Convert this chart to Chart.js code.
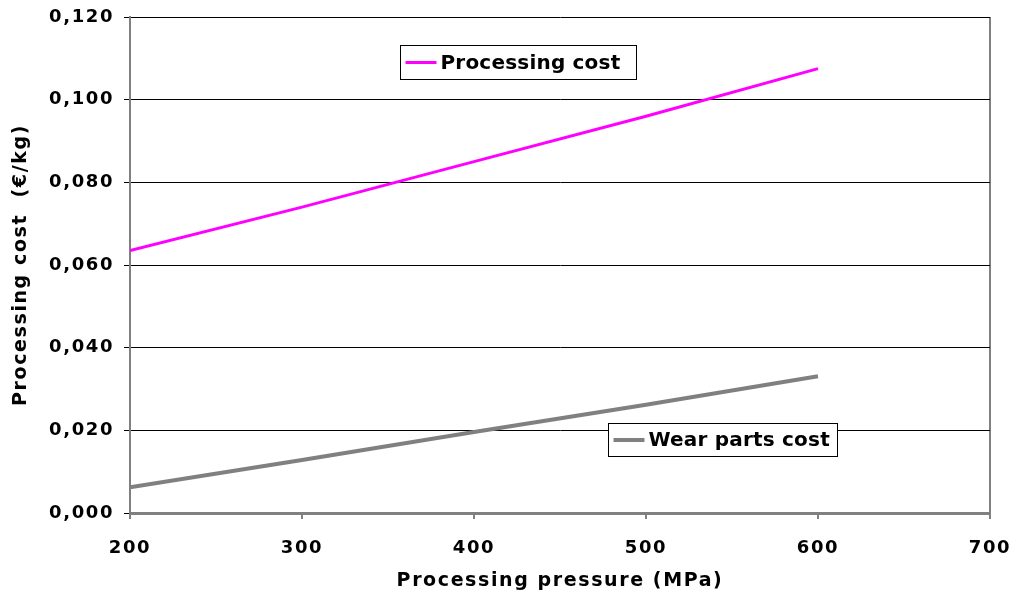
<!DOCTYPE html>
<html><head><meta charset="utf-8">
<script src="https://cdn.jsdelivr.net/npm/chart.js@4.4.1/dist/chart.umd.min.js"></script>
<style>html,body{margin:0;padding:0;background:#fff}#wrap{width:1017px;height:598px}</style>
</head><body><div id="wrap"><canvas id="c" width="1017" height="598"></canvas></div>
<script>
const pressures = [200, 300, 400, 500, 600];
const processingCost = [0.0635, 0.0740, 0.0850, 0.0960, 0.1075];
const wearPartsCost = [0.0062, 0.0128, 0.0196, 0.0262, 0.0331];
const seriesNames = ['Processing cost', 'Wear parts cost'];
const xTitle = 'Processing pressure (MPa)';
const yTitle = 'Processing cost  (€/kg)';

const FONT = '"DejaVu Sans", Verdana, sans-serif';

const spacing = {
  id: 'spacing',
  beforeUpdate(chart) { chart.ctx.letterSpacing = '1.6px'; },
  beforeDraw(chart) { chart.ctx.letterSpacing = '1.6px'; }
};

const boxLegend = {
  id: 'boxLegend',
  afterDraw(chart) {
    const ctx = chart.ctx, a = chart.chartArea;
    const items = [
      {ds: 0, fx: 0.314, fy: 0.0565, w: 236, h: 34},
      {ds: 1, fx: 0.556, fy: 0.8185, w: 229, h: 33}
    ];
    ctx.save();
    ctx.letterSpacing = '0.2px';
    items.forEach(it => {
      const d = chart.data.datasets[it.ds];
      const x = Math.round(a.left + it.fx * (a.right - a.left)) + 0.5;
      const y = Math.round(a.top + it.fy * (a.bottom - a.top)) + 0.5;
      ctx.fillStyle = '#fff';
      ctx.fillRect(x, y, it.w, it.h);
      ctx.strokeStyle = '#000';
      ctx.lineWidth = 1;
      ctx.strokeRect(x, y, it.w, it.h);
      const cy = y + it.h / 2;
      ctx.strokeStyle = d.borderColor;
      ctx.lineWidth = d.borderWidth;
      ctx.beginPath();
      ctx.moveTo(x + 5, cy);
      ctx.lineTo(x + 36, cy);
      ctx.stroke();
      ctx.fillStyle = '#000';
      ctx.font = 'bold 20px ' + FONT;
      ctx.textBaseline = 'middle';
      ctx.textAlign = 'left';
      ctx.fillText(d.label, x + 40, cy + 1);
    });
    ctx.restore();
  }
};

function noPad(s) { s.paddingTop = 0; s.paddingBottom = 0; s.paddingLeft = 0; s.paddingRight = 0; }

new Chart(document.getElementById('c'), {
  type: 'line',
  data: {
    datasets: [
      {label: seriesNames[0], data: pressures.map((p, i) => ({x: p, y: processingCost[i]})),
       borderColor: '#FF00FF', backgroundColor: '#FF00FF', borderWidth: 3, pointRadius: 0, tension: 0},
      {label: seriesNames[1], data: pressures.map((p, i) => ({x: p, y: wearPartsCost[i]})),
       borderColor: '#808080', backgroundColor: '#808080', borderWidth: 4, pointRadius: 0, tension: 0}
    ]
  },
  options: {
    responsive: false,
    animation: false,
    layout: {padding: {top: 17, right: 27, left: 0, bottom: 0}},
    plugins: {legend: {display: false}, tooltip: {enabled: false}},
    scales: {
      x: {
        type: 'linear', min: 200, max: 700,
        afterFit(s) { s.height = 85; noPad(s); },
        ticks: {stepSize: 100, color: '#000', padding: 19, font: {family: FONT, size: 18, weight: 'bold'}},
        grid: {
          drawOnChartArea: true, drawTicks: true, tickLength: 6,
          color: c => (c.tick && c.tick.value === 700) ? '#808080' : 'rgba(0,0,0,0)',
          lineWidth: 2, tickColor: '#000', tickWidth: 1
        },
        border: {display: true, color: '#808080', width: 3},
        title: {display: true, text: xTitle, color: '#000', padding: {top: 4, bottom: 6},
                font: {family: FONT, size: 19, weight: 'bold'}}
      },
      y: {
        min: 0, max: 0.12,
        afterFit(s) { s.width = 130; noPad(s); },
        ticks: {stepSize: 0.02, color: '#000', padding: 10,
                callback: v => v.toFixed(3).replace('.', ','),
                font: {family: FONT, size: 18, weight: 'bold'}},
        grid: {color: '#000', lineWidth: 1, tickLength: 6, tickColor: '#000'},
        border: {display: true, color: '#808080', width: 2},
        title: {display: true, text: yTitle, color: '#000', padding: {top: 10, bottom: 0},
                font: {family: FONT, size: 19, weight: 'bold'}}
      }
    }
  },
  plugins: [spacing, boxLegend]
});
</script></body></html>
